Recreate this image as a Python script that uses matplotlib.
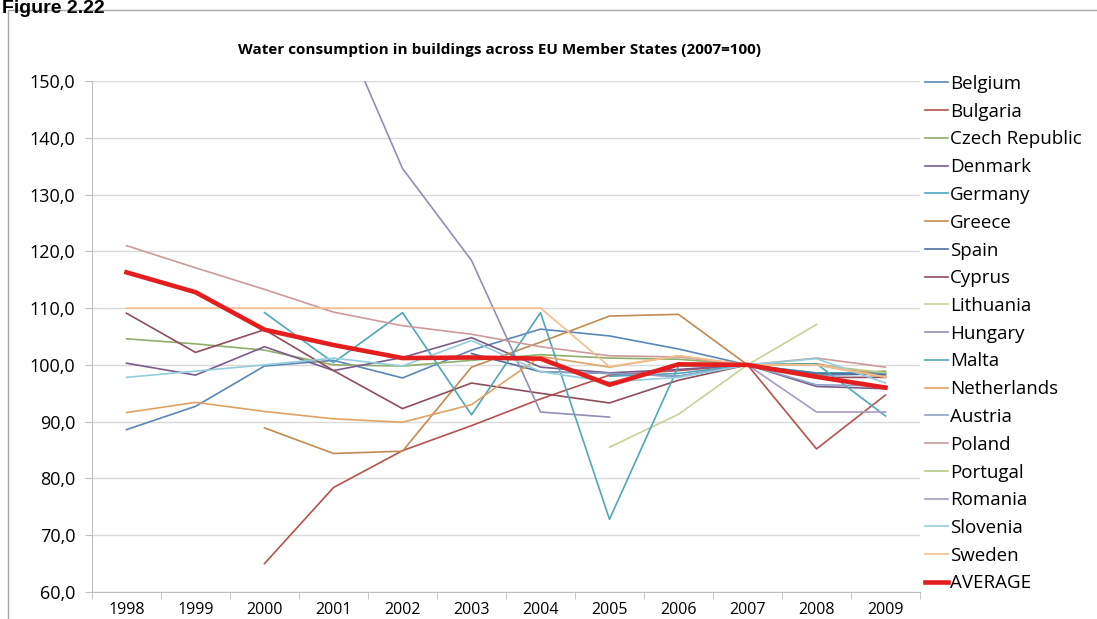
import numpy as np
import matplotlib
matplotlib.use("Agg")
import matplotlib.pyplot as plt
from matplotlib.patches import Rectangle

nan = np.nan

years = ["1998", "1999", "2000", "2001", "2002", "2003",
         "2004", "2005", "2006", "2007", "2008", "2009"]

belgium = [88.6, 92.7, 99.8, 100.8, 97.7, 102.6, 106.3, 105.1, 102.8, 100.0, 98.2, 98.4]
bulgaria = [nan, nan, 65.0, 78.4, 84.9, 89.3, 94.0, 98.2, 99.0, 100.0, 85.2, 94.7]
czech = [104.6, 103.7, 102.6, 100.0, 99.8, 100.8, 101.8, 101.2, 101.0, 100.0, 98.4, 98.9]
denmark = [100.3, 98.2, 103.2, 99.0, 101.3, 104.8, 99.6, 98.6, 99.2, 100.0, 96.2, 95.8]
germany = [nan, nan, nan, nan, nan, nan, nan, 98.0, 98.5, 100.0, 98.6, 98.6]
greece = [nan, nan, 88.9, 84.4, 84.8, 99.6, 104.0, 108.6, 108.9, 100.0, 100.2, 98.0]
spain = [nan, nan, nan, nan, nan, 102.0, 98.8, 98.5, 98.0, 100.0, 98.5, 98.3]
cyprus = [109.1, 102.2, 106.2, 99.0, 92.3, 96.8, 95.0, 93.3, 97.3, 100.0, 97.8, 97.8]
lithuania = [nan, nan, nan, nan, nan, nan, nan, 85.5, 91.3, 100.0, 107.1, nan]
hungary = [nan, nan, nan, 162.7, 134.6, 118.4, 91.7, 90.8, nan, nan, nan, nan]
malta = [nan, nan, 109.2, 100.4, 109.2, 91.2, 109.2, 72.8, 99.8, 100.0, 100.2, 91.0]
netherlands = [91.6, 93.4, 91.8, 90.5, 89.9, 93.0, 101.5, 99.6, 101.6, 100.0, 100.0, 97.8]
austria = [nan, nan, nan, nan, nan, nan, 98.8, 98.5, 98.0, 100.0, 96.5, 96.3]
poland = [121.0, 117.1, 113.3, 109.3, 106.9, 105.4, 103.2, 101.6, 101.4, 100.0, 101.2, 99.6]
portugal = [nan, nan, nan, nan, nan, nan, nan, nan, nan, 100.0, 100.0, 98.6]
romania = [nan, nan, nan, nan, nan, nan, nan, nan, nan, 100.0, 91.7, 91.7]
slovenia = [97.8, 98.9, 100.0, 101.2, 99.8, 104.3, 98.8, 97.0, 97.8, 100.0, 101.1, 96.8]
sweden = [110.0, 110.0, 110.0, 110.0, 110.0, 110.0, 110.0, 99.7, 101.6, 100.0, 100.0, 97.9]
average = [116.3, 112.8, 106.2, 103.5, 101.2, 101.3, 101.1, 96.5, 100.1, 100.0, 97.9, 96.0]

series = [
    ("Belgium", belgium, "#5B86B8"),
    ("Bulgaria", bulgaria, "#B5524F"),
    ("Czech Republic", czech, "#8FAF6A"),
    ("Denmark", denmark, "#7A5C8C"),
    ("Germany", germany, "#4FA5BD"),
    ("Greece", greece, "#C38A52"),
    ("Spain", spain, "#4F6F9A"),
    ("Cyprus", cyprus, "#8E4E5C"),
    ("Lithuania", lithuania, "#C5D29A"),
    ("Hungary", hungary, "#958DB3"),
    ("Malta", malta, "#4EA8B6"),
    ("Netherlands", netherlands, "#E0A264"),
    ("Austria", austria, "#8DA3C7"),
    ("Poland", poland, "#CC9A9A"),
    ("Portugal", portugal, "#B9C98A"),
    ("Romania", romania, "#A99BC2"),
    ("Slovenia", slovenia, "#93CCDD"),
    ("Sweden", sweden, "#F4BE8E"),
]

plt.rcParams["font.family"] = ["Open Sans", "DejaVu Sans"]

fig = plt.figure(figsize=(10.97, 6.19), dpi=100)
ax = fig.add_axes([92 / 1097, 1 - 592 / 619, (920 - 92) / 1097, (592 - 81) / 619])

x = np.arange(len(years))
for name, vals, color in series:
    ax.plot(x, vals, color=color, lw=1.2, label=name)
ax.plot(x, average, color="#E41E1E", lw=3.3, label="AVERAGE", zorder=5)

ax.set_ylim(60, 150)
ax.set_xlim(-0.5, len(years) - 0.5)
yticks = np.arange(60, 151, 10)
ax.set_yticks(yticks)
ax.set_yticklabels([f"{v:.1f}".replace(".", ",") for v in yticks], fontsize=13)
ax.set_xticks(x)
ax.set_xticklabels(years, fontsize=11.5)
ax.set_xticks(np.arange(-0.5, len(years)), minor=True)
ax.tick_params(axis="x", which="major", length=0, pad=7)
ax.tick_params(axis="x", which="minor", length=5, color="#BFBFBF")
ax.tick_params(axis="y", length=5, color="#BFBFBF", pad=7)
ax.grid(axis="y", color="#D9D9D9", lw=1)
ax.set_axisbelow(True)
for s in ["top", "right"]:
    ax.spines[s].set_visible(False)
for s in ["left", "bottom"]:
    ax.spines[s].set_color("#BFBFBF")

fig.text(500 / 1097, 1 - 50 / 619,
         "Water consumption in buildings across EU Member States (2007=100)",
         ha="center", va="center", fontsize=11, fontweight="bold")
fig.text(0.002, 1 - 13 / 619, "Figure 2.22", ha="left", va="baseline",
         fontsize=14, fontweight="bold", family="Liberation Sans")

fig.patches.append(Rectangle((8 / 1097, -0.1), 1.2, 1.1 - 10 / 619,
                             transform=fig.transFigure, fill=False,
                             edgecolor="#A6A6A6", lw=1))

fig.legend(loc="upper left", bbox_to_anchor=(925 / 1097, 1 - 75 / 619),
           frameon=False, fontsize=13.5, handlelength=1.2, handletextpad=0.15,
           labelspacing=0.52, borderaxespad=0, borderpad=0)

fig.savefig("out.png", dpi=100)
